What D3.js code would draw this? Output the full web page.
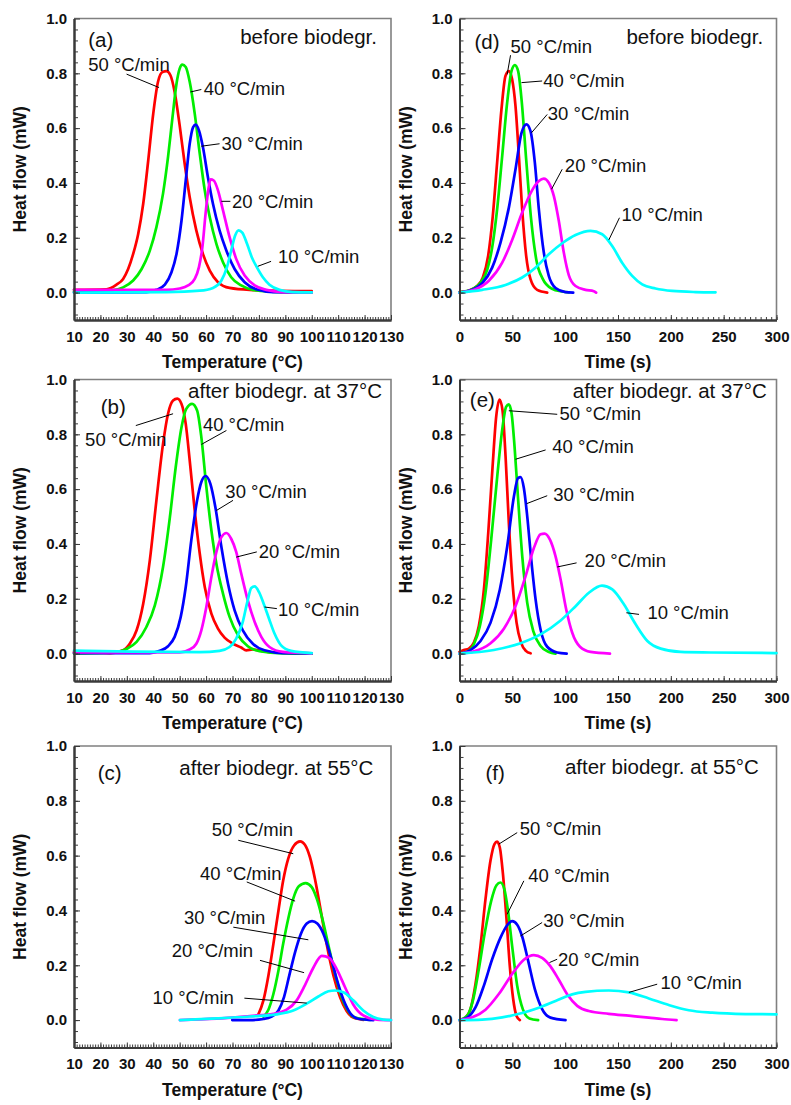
<!DOCTYPE html>
<html>
<head>
<meta charset="utf-8">
<script src="https://cdn.jsdelivr.net/npm/d3@7"></script>
<style>
  html, body { margin: 0; padding: 0; background: #fff; }
  svg { display: block; font-family: "Liberation Sans", Arial, Helvetica, sans-serif; }
</style>
</head>
<body>
<svg id="chart" width="791" height="1105"></svg>
<script>
// ---- Axis ticks ----
const tempTicks = [10, 20, 30, 40, 50, 60, 70, 80, 90, 100, 110, 120, 130];
const timeTicks = [0, 50, 100, 150, 200, 250, 300];
const flowTicks = [0.0, 0.2, 0.4, 0.6, 0.8, 1.0];

// ---- Heating rates ----
const rates = ["50 °C/min", "40 °C/min", "30 °C/min", "20 °C/min", "10 °C/min"];

// ---- (a) before biodegradation, heat flow vs temperature [°C, mW] ----
const a50 = [[10,0.010],[22.3,0.012],[26.1,0.029],[28.6,0.050],[30.5,0.086],[32.4,0.141],[34.3,0.214],[36.2,0.324],[38.1,0.482],[40.0,0.653],[41.8,0.769],[43.5,0.805],[45.0,0.808],[46.5,0.793],[48.1,0.732],[50.0,0.610],[51.9,0.470],[53.8,0.348],[56.3,0.227],[58.8,0.141],[61.4,0.080],[64.5,0.038],[68.9,0.017],[76.5,0.010],[100,0.005]];
const a40 = [[10,0.004],[23.6,0.007],[28.6,0.019],[32.4,0.044],[35.6,0.086],[38.7,0.153],[41.2,0.239],[43.7,0.361],[45.6,0.495],[47.3,0.641],[48.8,0.762],[50.0,0.817],[51.0,0.832],[52.3,0.823],[53.8,0.769],[55.7,0.653],[57.6,0.507],[59.5,0.373],[61.4,0.275],[63.9,0.178],[66.4,0.111],[69.5,0.056],[73.3,0.026],[77.7,0.010],[89.1,0.002],[100,0.001]];
const a30 = [[10,0.0],[37.4,0.002],[41.2,0.010],[44.4,0.029],[46.9,0.074],[48.8,0.141],[50.7,0.263],[52.3,0.409],[53.8,0.543],[55.1,0.604],[56.1,0.613],[57.3,0.592],[58.8,0.531],[60.7,0.421],[62.6,0.324],[65.1,0.227],[67.7,0.153],[70.8,0.086],[74.6,0.038],[79.0,0.012],[85.3,0.002],[100,0.001]];
const a20 = [[10,0.010],[45.0,0.010],[50.0,0.015],[53.2,0.026],[55.7,0.050],[57.3,0.093],[58.6,0.166],[59.8,0.287],[60.9,0.379],[61.7,0.413],[62.9,0.409],[64.5,0.373],[66.4,0.300],[68.9,0.202],[71.4,0.123],[74.6,0.062],[78.4,0.026],[82.8,0.010],[89.1,0.002],[100,0.001]];
const a10 = [[10,0.0],[45.0,0.002],[57.6,0.007],[62.6,0.017],[65.8,0.044],[67.9,0.093],[69.5,0.153],[71.0,0.208],[72.3,0.227],[73.7,0.219],[75.5,0.178],[77.3,0.129],[79.2,0.093],[81.5,0.056],[84.0,0.029],[87.8,0.010],[92.8,0.002],[100,0.001]];

// ---- (d) before biodegradation, heat flow vs time [s, mW] ----
const d50 = [[0,0.002],[8.8,0.007],[16.7,0.024],[22.1,0.055],[27.1,0.134],[31.5,0.279],[35.6,0.474],[39.7,0.668],[43.5,0.790],[46.7,0.808],[49.8,0.778],[53.0,0.680],[56.2,0.498],[59.3,0.304],[63.1,0.134],[67.2,0.049],[73.5,0.010],[83.0,0.0]];
const d40 = [[0,0.001],[12.0,0.012],[19.9,0.036],[26.2,0.083],[30.9,0.164],[35.6,0.304],[40.4,0.498],[45.1,0.693],[49.2,0.808],[52.4,0.830],[55.5,0.808],[58.7,0.705],[63.1,0.486],[67.8,0.267],[72.6,0.122],[78.9,0.049],[87.1,0.015],[97.2,0.004],[103.5,0.001]];
const d30 = [[0,0.0],[12.0,0.010],[21.5,0.034],[30.9,0.091],[38.8,0.182],[46.7,0.310],[53.0,0.450],[58.7,0.583],[63.4,0.614],[67.2,0.589],[71.3,0.474],[75.1,0.304],[79.8,0.146],[84.5,0.061],[90.9,0.017],[100.3,0.002],[107.6,0.0]];
const d20 = [[0,0.0],[15.1,0.012],[27.8,0.043],[40.4,0.109],[49.8,0.192],[59.3,0.292],[68.8,0.374],[75.1,0.407],[79.8,0.416],[84.5,0.401],[89.3,0.352],[94.0,0.261],[98.7,0.146],[103.5,0.063],[109.8,0.024],[119.2,0.010],[127.1,0.005],[129.3,0.0]];
const d10 = [[0,0.0],[21.5,0.010],[43.5,0.028],[59.3,0.055],[71.9,0.091],[84.5,0.140],[97.2,0.180],[109.8,0.210],[124.0,0.225],[135.0,0.213],[144.5,0.170],[153.9,0.109],[163.4,0.061],[172.9,0.030],[185.5,0.015],[201.3,0.006],[223.3,0.002],[242.3,0.001]];

// ---- (b) after biodegradation at 37 °C, vs temperature ----
const b50 = [[10,0.006],[23.6,0.002],[28.6,0.012],[31.1,0.036],[33.7,0.085],[36.2,0.182],[38.7,0.340],[41.2,0.559],[43.7,0.765],[45.6,0.875],[47.5,0.923],[49.1,0.930],[50.7,0.911],[52.3,0.838],[53.8,0.705],[55.7,0.522],[57.6,0.365],[59.5,0.243],[62.0,0.146],[64.5,0.091],[67.0,0.058],[70.2,0.036],[73.3,0.022],[75.2,0.012],[77.7,0.015],[80.9,0.010],[85.3,0.004],[100,0.001]];
const b40 = [[10,0.0],[24.9,0.004],[29.9,0.017],[33.7,0.043],[37.4,0.097],[40.6,0.176],[43.7,0.316],[46.3,0.498],[48.5,0.680],[50.7,0.826],[52.5,0.893],[54.7,0.911],[56.6,0.887],[58.2,0.790],[60.1,0.608],[62.0,0.450],[63.9,0.328],[66.4,0.219],[68.9,0.134],[72.1,0.067],[75.8,0.027],[80.2,0.009],[89.1,0.001],[100,0.0]];
const b30 = [[10,0.002],[38.7,0.002],[42.5,0.010],[45.6,0.027],[48.1,0.061],[50.4,0.134],[52.3,0.243],[54.4,0.413],[56.6,0.559],[58.2,0.626],[59.8,0.648],[61.6,0.620],[63.5,0.535],[65.8,0.389],[68.3,0.255],[70.8,0.158],[73.9,0.085],[77.7,0.036],[82.1,0.012],[89.1,0.002],[100,0.001]];
const b20 = [[10,0.004],[50.0,0.004],[53.8,0.015],[56.3,0.036],[58.2,0.085],[60.1,0.170],[62.0,0.279],[63.9,0.371],[65.8,0.425],[67.7,0.440],[69.5,0.419],[71.4,0.371],[73.3,0.292],[75.8,0.194],[78.4,0.115],[80.9,0.061],[84.0,0.024],[89.1,0.006],[100,0.001]];
const b10 = [[10,0.011],[32.4,0.007],[57.6,0.005],[65.1,0.010],[68.9,0.024],[71.4,0.055],[73.7,0.109],[75.6,0.188],[77.1,0.239],[78.4,0.245],[80.0,0.225],[81.8,0.182],[83.8,0.128],[85.9,0.073],[88.4,0.030],[92.2,0.010],[100,0.002]];

// ---- (e) after biodegradation at 37 °C, vs time ----
const e50 = [[0,0.006],[4.1,0.013],[8.8,0.018],[13.6,0.040],[18.3,0.101],[23.1,0.234],[27.2,0.440],[31.3,0.682],[34.7,0.864],[37.9,0.927],[40.7,0.888],[43.6,0.719],[46.7,0.476],[50.2,0.258],[54.0,0.113],[58.4,0.038],[62.8,0.010],[67.3,0.001]];
const e40 = [[0,0.0],[7.3,0.007],[13.6,0.034],[19.3,0.101],[24.6,0.222],[30.0,0.416],[35.7,0.646],[40.4,0.816],[44.2,0.901],[46.7,0.909],[49.3,0.876],[52.1,0.755],[55.3,0.573],[59.4,0.355],[64.1,0.185],[69.8,0.082],[76.7,0.028],[84.6,0.006],[90.9,0.0]];
const e30 = [[0,0.0],[10.4,0.013],[19.9,0.046],[29.4,0.113],[38.2,0.234],[45.2,0.392],[51.5,0.573],[55.3,0.640],[57.8,0.644],[60.9,0.604],[64.1,0.501],[67.9,0.343],[72.0,0.198],[76.7,0.088],[83.0,0.025],[92.5,0.004],[101.4,0.0]];
const e20 = [[0,0.0],[13.6,0.008],[29.4,0.038],[42.0,0.091],[53.0,0.173],[62.5,0.282],[70.4,0.385],[76.7,0.435],[80.5,0.438],[85.6,0.416],[90.9,0.355],[95.7,0.270],[101.0,0.161],[106.7,0.076],[114.0,0.025],[124.1,0.006],[142.4,0.0]];
const e10 = [[0,0.0],[32.5,0.013],[57.8,0.038],[76.7,0.070],[95.7,0.121],[109.9,0.173],[122.5,0.222],[134.8,0.248],[144.6,0.234],[155.7,0.179],[166.7,0.107],[177.8,0.046],[190.4,0.018],[209.3,0.006],[237.8,0.004],[300,0.002]];

// ---- (c) after biodegradation at 55 °C, vs temperature ----
const c50 = [[79.8,0.021],[81.7,0.072],[83.6,0.163],[85.5,0.279],[87.4,0.400],[89.2,0.510],[91.1,0.589],[93.3,0.637],[95.6,0.652],[97.4,0.640],[99.3,0.595],[101.2,0.516],[103.4,0.400],[105.6,0.279],[108.2,0.163],[110.7,0.084],[113.2,0.033],[115.7,0.009],[119.5,0.001]];
const c40 = [[81.7,0.013],[83.6,0.038],[85.5,0.096],[87.4,0.181],[89.2,0.279],[91.1,0.370],[93.0,0.443],[95.1,0.488],[97.7,0.500],[100.0,0.485],[101.9,0.443],[104.0,0.370],[106.3,0.273],[108.8,0.169],[111.3,0.084],[113.8,0.033],[116.4,0.009],[122.1,0.001]];
const c30 = [[69.9,0.0],[76.6,0.0],[81.7,0.004],[84.8,0.013],[87.4,0.035],[89.5,0.084],[91.5,0.163],[93.7,0.248],[95.9,0.315],[98.1,0.352],[100.1,0.361],[102.1,0.352],[104.4,0.315],[106.9,0.242],[109.4,0.151],[112.0,0.074],[114.5,0.026],[117.6,0.005],[123.3,0.0]];
const c20 = [[50.1,0.0],[64.0,0.005],[76.6,0.015],[85.5,0.023],[90.5,0.038],[94.3,0.072],[97.4,0.127],[100.6,0.191],[103.8,0.234],[106.7,0.226],[109.4,0.187],[112.6,0.120],[115.7,0.057],[119.5,0.017],[124.6,0.002],[130,0.0]];
const c10 = [[50.1,0.0],[64.0,0.006],[76.6,0.013],[86.7,0.021],[93.0,0.035],[98.1,0.060],[102.5,0.086],[106.3,0.105],[108.8,0.108],[112.0,0.102],[115.7,0.072],[119.5,0.035],[123.3,0.011],[127.1,0.002],[130,0.0]];

// ---- (f) after biodegradation at 55 °C, vs time ----
const f50 = [[0,0.0],[5.7,0.009],[10.4,0.040],[15.1,0.131],[19.9,0.271],[24.6,0.441],[29.3,0.581],[33.1,0.642],[35.6,0.651],[38.2,0.629],[41.0,0.538],[44.5,0.368],[47.6,0.198],[50.8,0.077],[53.9,0.016],[57.1,0.0]];
const f40 = [[0,0.0],[7.3,0.016],[12.6,0.070],[18.3,0.186],[24.0,0.320],[30.0,0.435],[35.0,0.492],[38.8,0.502],[42.3,0.480],[45.7,0.405],[49.8,0.271],[54.6,0.125],[59.9,0.040],[66.2,0.006],[74.4,0.0]];
const f30 = [[0,0.0],[7.3,0.009],[15.1,0.046],[23.0,0.125],[30.9,0.222],[38.8,0.301],[45.1,0.346],[49.8,0.361],[54.6,0.348],[59.3,0.305],[65.0,0.216],[71.3,0.113],[78.2,0.040],[86.1,0.009],[100.3,0.0]];
const f20 = [[0,0.0],[12.0,0.010],[24.6,0.038],[37.2,0.095],[49.8,0.168],[60.9,0.220],[70.3,0.237],[78.2,0.227],[86.1,0.196],[94.0,0.147],[101.9,0.094],[111.4,0.052],[122.4,0.033],[141.3,0.023],[160.3,0.016],[179.2,0.009],[191.8,0.004],[205.4,0.0]];
const f10 = [[0,0.0],[21.5,0.002],[40.4,0.010],[59.3,0.026],[75.1,0.045],[90.9,0.070],[106.6,0.094],[119.2,0.103],[141.3,0.108],[160.3,0.101],[179.2,0.079],[198.1,0.055],[217.0,0.036],[239.1,0.027],[270.7,0.022],[300,0.021]];

// ---- Curve label placement (data units): text start, leader line from -> to ----
const notesA = [
  { at: [15.4, 0.809], from: [29.9, 0.797], to: [42.2, 0.748] },
  { at: [59.1, 0.720], from: [58.2, 0.741], to: [54.1, 0.732] },
  { at: [65.8, 0.519], from: [65.1, 0.543], to: [58.2, 0.534] },
  { at: [69.8, 0.309], from: [69.2, 0.333], to: [65.8, 0.333] },
  { at: [87.2, 0.107], from: [84.6, 0.114], to: [79.6, 0.096] }
];
const notesD = [
  { at: [48.3, 0.875], from: [48.3, 0.866], to: [45.1, 0.796] },
  { at: [79.2, 0.751], from: [78.2, 0.772], to: [58.7, 0.766] },
  { at: [83.6, 0.629], from: [83.0, 0.650], to: [68.1, 0.583] },
  { at: [99.7, 0.440], from: [97.2, 0.450], to: [87.1, 0.377] },
  { at: [153.3, 0.261], from: [151.4, 0.273], to: [141.3, 0.192] }
];
const notesB = [
  { at: [14.2, 0.759], from: [33.4, 0.832], to: [47.5, 0.875] },
  { at: [58.8, 0.812], from: [67.7, 0.814], to: [58.2, 0.763] },
  { at: [67.3, 0.569], from: [70.2, 0.559], to: [63.9, 0.522] },
  { at: [79.9, 0.350], from: [79.2, 0.371], to: [71.4, 0.352] },
  { at: [87.2, 0.137], from: [86.8, 0.164], to: [82.1, 0.170] }
];
const notesE = [
  { at: [94.7, 0.852], from: [92.5, 0.873], to: [46.7, 0.886] },
  { at: [87.8, 0.731], from: [81.5, 0.743], to: [53.0, 0.709] },
  { at: [88.7, 0.555], from: [83.0, 0.576], to: [63.5, 0.547] },
  { at: [118.4, 0.316], from: [110.8, 0.331], to: [92.5, 0.316] },
  { at: [177.8, 0.125], from: [169.9, 0.143], to: [157.9, 0.149] }
];
const notesC = [
  { at: [62.1, 0.670], from: [72.2, 0.656], to: [93.0, 0.607] },
  { at: [57.7, 0.512], from: [75.4, 0.504], to: [93.7, 0.434] },
  { at: [51.6, 0.349], from: [70.3, 0.339], to: [98.7, 0.293] },
  { at: [47.0, 0.232], from: [80.4, 0.218], to: [97.1, 0.173] },
  { at: [39.7, 0.060], from: [74.5, 0.080], to: [98.1, 0.062] }
];
const notesF = [
  { at: [57.1, 0.674], from: [54.6, 0.684], to: [37.2, 0.642] },
  { at: [65.0, 0.502], from: [60.9, 0.508], to: [45.1, 0.386] },
  { at: [79.2, 0.338], from: [78.2, 0.356], to: [57.7, 0.307] },
  { at: [93.1, 0.198], from: [92.4, 0.222], to: [85.2, 0.210] },
  { at: [190.2, 0.113], from: [187.1, 0.131], to: [160.3, 0.101] }
];

// ---- Styling ----
const rateColors = ["#ff0000", "#00ee00", "#0000ff", "#ff00ff", "#00ffff"];
const COL_LEFT = 74, COL_RIGHT = 459.5, PLOT_W = 317, PLOT_H = 301.5;
const ROW_TOP = [18.5, 379.5, 746];

const axisKinds = {
  temp: { domain: [10, 130], ticks: tempTicks, minorStep: 1, title: "Temperature (°C)" },
  time: { domain: [0, 300], ticks: timeTicks, minorStep: 5, title: "Time (s)" }
};

const panels = [
  { kind: "temp", left: COL_LEFT,  top: ROW_TOP[0], series: [a50, a40, a30, a20, a10], notes: notesA,
    letter: "(a)", letterAt: [15.4, 0.896], cond: "before biodegr.", condAt: [124.7, 0.906] },
  { kind: "time", left: COL_RIGHT, top: ROW_TOP[0], series: [d50, d40, d30, d20, d10], notes: notesD,
    letter: "(d)", letterAt: [14.2, 0.887], cond: "before biodegr.", condAt: [287.4, 0.908] },
  { kind: "temp", left: COL_LEFT,  top: ROW_TOP[1], series: [b50, b40, b30, b20, b10], notes: notesB,
    letter: "(b)", letterAt: [20.1, 0.875], cond: "after biodegr. at 37°C", condAt: [126.6, 0.933] },
  { kind: "time", left: COL_RIGHT, top: ROW_TOP[1], series: [e50, e40, e30, e20, e10], notes: notesE,
    letter: "(e)", letterAt: [9.8, 0.900], cond: "after biodegr. at 37°C", condAt: [290.8, 0.931] },
  { kind: "temp", left: COL_LEFT,  top: ROW_TOP[2], series: [c50, c40, c30, c20, c10], notes: notesC,
    letter: "(c)", letterAt: [19.0, 0.875], cond: "after biodegr. at 55°C", condAt: [123.3, 0.895] },
  { kind: "time", left: COL_RIGHT, top: ROW_TOP[2], series: [f50, f40, f30, f20, f10], notes: notesF,
    letter: "(f)", letterAt: [24.6, 0.876], cond: "after biodegr. at 55°C", condAt: [283.3, 0.897] }
];

const svg = d3.select("#chart");
svg.append("rect").attr("width", 791).attr("height", 1105).attr("fill", "#fff");

function drawPanel(p) {
  const k = axisKinds[p.kind];
  const x = d3.scaleLinear().domain(k.domain).range([p.left, p.left + PLOT_W]);
  const y = d3.scaleLinear().domain([-0.1, 1.0]).range([p.top + PLOT_H, p.top]);
  const g = svg.append("g");

  // top and right frame edges
  g.append("path")
    .attr("d", `M${x.range()[0]},${y.range()[1]}H${x.range()[1]}V${y.range()[0]}`)
    .attr("fill", "none").attr("stroke", "#808080").attr("stroke-width", 1.6);

  // curves
  const line = d3.line().x(d => x(d[0])).y(d => y(d[1])).curve(d3.curveMonotoneX);
  p.series.forEach((s, i) => {
    g.append("path").datum(s)
      .attr("d", line)
      .attr("fill", "none")
      .attr("stroke", rateColors[i])
      .attr("stroke-width", 2.7)
      .attr("stroke-linejoin", "round")
      .attr("stroke-linecap", "round");
  });

  // bottom axis: minor then major (inward ticks)
  const xMinor = d3.range(k.domain[0], k.domain[1] + 0.001, k.minorStep);
  const xAxisG = g.append("g").attr("transform", `translate(0,${y.range()[0]})`);
  xAxisG.append("g").call(d3.axisBottom(x).tickValues(xMinor).tickSize(-3).tickSizeOuter(0).tickFormat(""));
  xAxisG.append("g").call(d3.axisBottom(x).tickValues(k.ticks).tickSize(-5).tickSizeOuter(0).tickPadding(11).tickFormat(d3.format("d")));

  // left axis
  const yMinor = d3.range(-2, 25).map(i => i * 0.04);
  const yAxisG = g.append("g").attr("transform", `translate(${x.range()[0]},0)`);
  yAxisG.append("g").call(d3.axisLeft(y).tickValues(yMinor).tickSize(-4).tickSizeOuter(0).tickFormat(""));
  yAxisG.append("g").call(d3.axisLeft(y).tickValues(flowTicks).tickSize(-6).tickSizeOuter(0).tickPadding(7).tickFormat(d3.format(".1f")));

  g.selectAll(".domain").attr("stroke", "#3a3a3a").attr("stroke-width", 2);
  g.selectAll(".tick line").attr("stroke", "#3a3a3a").attr("stroke-width", 1);
  g.selectAll(".tick text")
    .attr("fill", "#111").attr("font-size", 15).attr("font-weight", "bold")
    .attr("font-family", "'Liberation Sans', Arial, sans-serif");

  // axis titles
  g.append("text")
    .attr("x", (x.range()[0] + x.range()[1]) / 2)
    .attr("y", y.range()[0] + 48)
    .attr("text-anchor", "middle")
    .attr("font-size", 17.5).attr("font-weight", "bold").attr("fill", "#111")
    .text(k.title);
  g.append("text")
    .attr("transform", `translate(${x.range()[0] - 48},${(y.range()[0] + y.range()[1]) / 2}) rotate(-90)`)
    .attr("text-anchor", "middle")
    .attr("font-size", 17.5).attr("font-weight", "bold").attr("fill", "#111")
    .text("Heat flow (mW)");

  // panel letter and sample condition
  g.append("text")
    .attr("x", x(p.letterAt[0])).attr("y", y(p.letterAt[1]))
    .attr("font-size", 20.5).attr("fill", "#111").text(p.letter);
  g.append("text")
    .attr("x", x(p.condAt[0])).attr("y", y(p.condAt[1]))
    .attr("text-anchor", "end")
    .attr("font-size", 20.5).attr("fill", "#111").text(p.cond);

  // curve labels with leader lines
  p.notes.forEach((n, i) => {
    g.append("line")
      .attr("x1", x(n.from[0])).attr("y1", y(n.from[1]))
      .attr("x2", x(n.to[0])).attr("y2", y(n.to[1]))
      .attr("stroke", "#000").attr("stroke-width", 1);
    g.append("text")
      .attr("x", x(n.at[0])).attr("y", y(n.at[1]))
      .attr("font-size", 18.5).attr("fill", "#111")
      .text(rates[i]);
  });
}

panels.forEach(drawPanel);
</script>
</body>
</html>
